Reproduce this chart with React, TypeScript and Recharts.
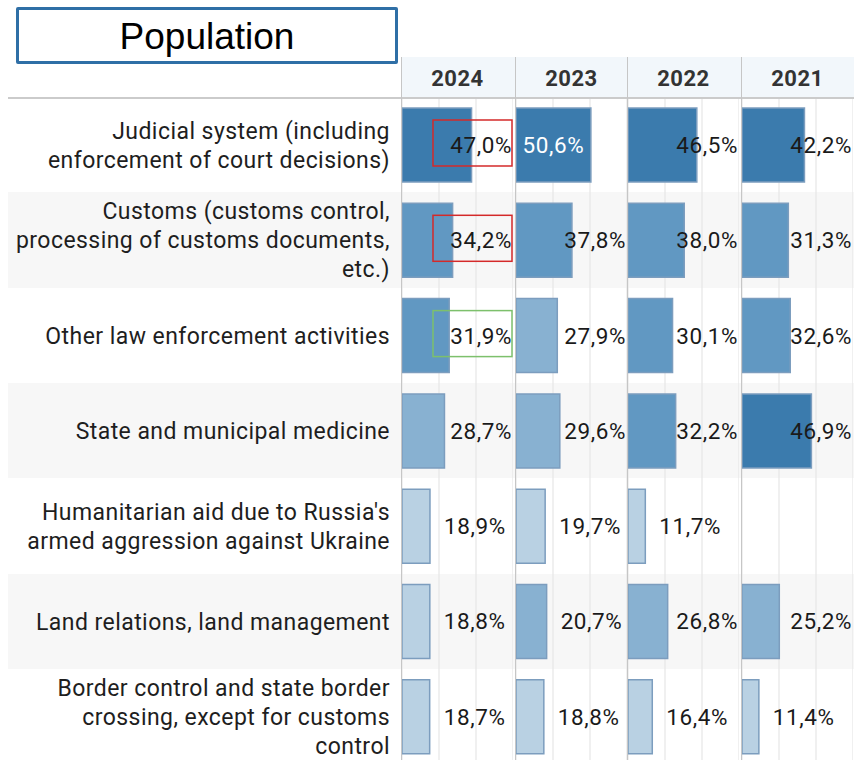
import React from "react";
import { BarChart, Bar, XAxis, YAxis, Cell, LabelList, CartesianGrid } from "recharts";

// row labels, explicit line breaks as in the original table
const categories = [
  "Judicial system (including\nenforcement of court decisions)",
  "Customs (customs control,\nprocessing of customs documents,\netc.)",
  "Other law enforcement activities",
  "State and municipal medicine",
  "Humanitarian aid due to Russia's\narmed aggression against Ukraine",
  "Land relations, land management",
  "Border control and state border\ncrossing, except for customs\ncontrol",
];
const years = ["2024", "2023", "2022", "2021"];
const values2024 = [47.0, 34.2, 31.9, 28.7, 18.9, 18.8, 18.7];
const values2023 = [50.6, 37.8, 27.9, 29.6, 19.7, 20.7, 18.8];
const values2022 = [46.5, 38.0, 30.1, 32.2, 11.7, 26.8, 16.4];
const values2021 = [42.2, 31.3, 32.6, 46.9, null, 25.2, 11.4];
const highlights2024 = ["red", "red", "green", null, null, null, null];
const xTicks = [0, 25, 50, 75];

const seriesByYear: Record<string, (number | null)[]> = {
  "2024": values2024,
  "2023": values2023,
  "2022": values2022,
  "2021": values2021,
};

const rows = categories.map((name, i) => {
  const row: Record<string, any> = { name };
  years.forEach((y) => (row["v" + y] = seriesByYear[y][i]));
  return row;
});

// layout
const TOP = 97;
const ROW_H = 95.3;
const CHART_H = ROW_H * categories.length;
const PLOT_W = 111;
const AXIS_W = 394;
const COL_X = [402, 516, 628, 742];
const FONT = "Roboto, 'Noto Sans', sans-serif";
const LABEL_SIZE = 23;
const VALUE_SIZE = 22.5;

function barColor(v: number) {
  if (v >= 40) return "#3b7bad";
  if (v >= 30) return "#6198c2";
  if (v >= 20) return "#88b1d1";
  return "#b9d1e3";
}

const fmt = (v: number) => v.toFixed(1).replace(".", ",") + "%";

function RowLabel(props: any) {
  const { y, payload } = props;
  const lines = String(payload.value).split("\n");
  const lh = 29;
  return (
    <text
      x={AXIS_W - 12}
      y={y}
      textAnchor="end"
      fontSize={LABEL_SIZE}
      fill="#1e1e1e"
      fontFamily={FONT}
      style={{ letterSpacing: "0.45px" }}
    >
      {lines.map((l, i) => (
        <tspan key={i} x={AXIS_W - 12} y={y + (i - (lines.length - 1) / 2) * lh + 1} dominantBaseline="central">
          {l}
        </tspan>
      ))}
    </text>
  );
}

// label sits a little right of the bar end, pushed back inside the column when it would overflow
function makeValueLabel(left: number, marks: (string | null)[] | null) {
  return (p: any) => {
    const v = p.value;
    if (v == null) return null;
    const x = Number(p.x);
    const w = Number(p.width);
    const cy = Number(p.y) + Number(p.height) / 2;
    const right = left + PLOT_W;
    const textW = 61;
    const end = x + w;
    let tx: number;
    let anchor: "start" | "middle" | "end" = "start";
    let fill = "#1a1a1a";
    if (w >= 72) {
      tx = x + w / 2;
      anchor = "middle";
      fill = "#ffffff";
    } else if (end + 14 + textW <= right - 1) {
      tx = end + 14;
    } else {
      tx = right - 1;
      anchor = "end";
    }
    const mark = marks ? marks[p.index] : null;
    return (
      <g>
        <text
          x={tx}
          y={cy}
          textAnchor={anchor}
          dominantBaseline="central"
          fontSize={VALUE_SIZE}
          fill={fill}
          fontFamily={FONT}
          style={{ letterSpacing: "0.6px" }}
        >
          {fmt(v)}
        </text>
        {mark && (
          <rect
            x={right - 80}
            y={cy - 25}
            width={79}
            height={46}
            fill="none"
            stroke={mark === "red" ? "#d42a2a" : "#7dc06c"}
            strokeWidth={1.5}
          />
        )}
      </g>
    );
  };
}

function YearChart({ year, withLabels }: { year: string; withLabels: boolean }) {
  const left = withLabels ? AXIS_W : 0;
  const key = "v" + year;
  return (
    <BarChart
      width={left + PLOT_W}
      height={CHART_H}
      data={rows}
      layout="vertical"
      margin={{ top: 0, right: 0, bottom: 0, left: 0 }}
    >
      <CartesianGrid horizontal={false} stroke="#e6e6e6" strokeWidth={1.2} />
      <XAxis type="number" domain={[0, 75]} ticks={xTicks} hide />
      <YAxis
        type="category"
        dataKey="name"
        width={AXIS_W}
        hide={!withLabels}
        axisLine={false}
        tickLine={false}
        interval={0}
        tick={<RowLabel />}
      />
      <Bar dataKey={key} barSize={74} isAnimationActive={false} stroke="#7c9dbe" strokeWidth={1.5}>
        {rows.map((r, i) => (
          <Cell key={i} fill={r[key] == null ? "none" : barColor(r[key])} />
        ))}
        <LabelList dataKey={key} content={makeValueLabel(left, withLabels ? highlights2024 : null)} />
      </Bar>
    </BarChart>
  );
}

export default function App() {
  return (
    <div
      style={{
        position: "absolute",
        left: 0,
        top: 0,
        width: 854,
        height: 760,
        overflow: "hidden",
        background: "#fff",
        fontFamily: FONT,
      }}
    >
      {/* row bands */}
      {categories.map((c, i) => (
        <div
          key={c}
          style={{
            position: "absolute",
            left: 8,
            top: TOP + i * ROW_H,
            width: 846,
            height: ROW_H,
            background: i % 2 === 1 ? "#f7f7f7" : "#ffffff",
          }}
        />
      ))}
      {/* header band */}
      <div style={{ position: "absolute", left: 402, top: 57, width: 452, height: 40, background: "#f2f7fb" }} />
      {years.map((y, i) => (
        <div
          key={y}
          style={{
            position: "absolute",
            left: COL_X[i],
            top: 59,
            width: PLOT_W,
            height: 40,
            lineHeight: "40px",
            textAlign: "center",
            fontWeight: 700,
            fontSize: 22,
            letterSpacing: "0.5px",
            color: "#333",
          }}
        >
          {y}
        </div>
      ))}
      {/* charts */}
      {years.map((y, i) => (
        <div
          key={y}
          style={{ position: "absolute", left: i === 0 ? COL_X[0] - AXIS_W : COL_X[i], top: TOP }}
        >
          <YearChart year={y} withLabels={i === 0} />
        </div>
      ))}
      {/* header rule and column separators */}
      <div style={{ position: "absolute", left: 8, top: 97, width: 846, height: 1.5, background: "#cbcbcb" }} />
      {COL_X.map((x) => (
        <div
          key={x}
          style={{ position: "absolute", left: x - 1.5, top: 57, width: 1.5, height: 703, background: "#c6c6c6" }}
        />
      ))}
      {/* title */}
      <div
        style={{
          position: "absolute",
          left: 16,
          top: 7,
          width: 382,
          height: 57,
          boxSizing: "border-box",
          border: "3px solid #2f6fa6",
          borderRadius: 2,
          textAlign: "center",
          lineHeight: "54px",
          fontFamily: "'Liberation Sans', Arial, sans-serif",
          fontSize: 37,
          color: "#000",
          background: "#fff",
        }}
      >
        Population
      </div>
    </div>
  );
}
